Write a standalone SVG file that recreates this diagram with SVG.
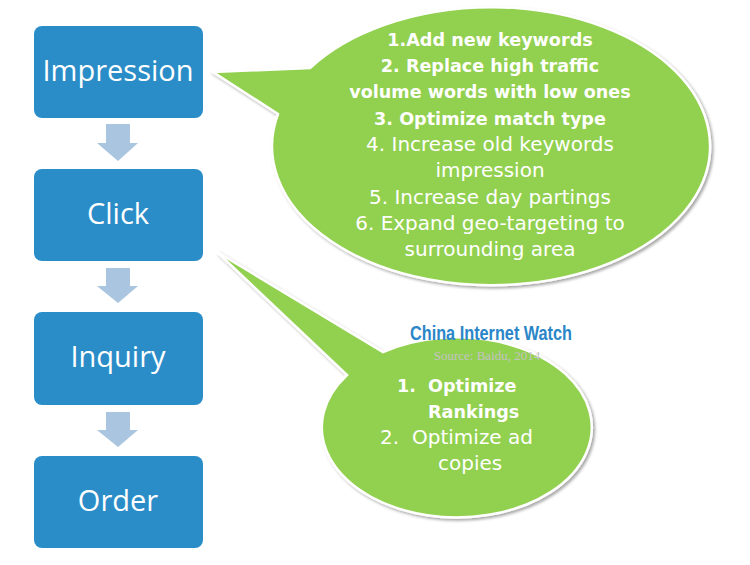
<svg xmlns="http://www.w3.org/2000/svg" width="750" height="565" viewBox="0 0 750 565">
<defs>
<filter id="sh" x="-10%" y="-10%" width="125%" height="125%">
<feDropShadow dx="2" dy="2" stdDeviation="1.5" flood-color="#000" flood-opacity="0.35"/>
</filter>
</defs>
<style>
.box{fill:#2A8DC8;}
.bt{fill:#fff;font-family:"Open Sans","Liberation Sans",sans-serif;font-size:29px;text-anchor:middle;}
.arr{fill:#A9C5DF;}
.call{fill:#92D050;stroke:#fff;stroke-width:2.5;filter:url(#sh);}
.ct{fill:#fff;font-family:"DejaVu Sans",sans-serif;font-size:20px;}
.m{text-anchor:middle;}
.b{font-weight:bold;font-size:17.6px;}
</style>
<rect width="750" height="565" fill="#fff"/>
<g id="connectors">
<path class="arr" d="M106,124 H130 V143 H138 L118,161 L97,143 H106 Z"/>
<path class="arr" d="M106,268 H130 V286 H138 L118,303 L97,286 H106 Z"/>
<path class="arr" d="M106,412 H130 V430 H138 L118,447 L97,430 H106 Z"/>
</g>
<g id="impression"><rect class="box" x="34" y="26" width="169" height="92" rx="8"/><text class="bt" x="118" y="81">Impression</text></g>
<g id="click"><rect class="box" x="34" y="169" width="169" height="92" rx="8"/><text class="bt" x="118" y="224">Click</text></g>
<g id="inquiry"><rect class="box" x="34" y="312" width="169" height="93" rx="8"/><text class="bt" x="118" y="367">Inquiry</text></g>
<g id="order"><rect class="box" x="34" y="456" width="169" height="92" rx="8"/><text class="bt" x="118" y="511">Order</text></g>
<g id="callout1">
<path class="call" d="M310,68 A219,139 0 1 1 278,114 L213,72 Z"/>
<text class="ct b m" x="490" y="46">1.Add new keywords</text>
<text class="ct b m" x="490" y="72">2. Replace high traffic</text>
<text class="ct b m" x="490" y="98">volume words with low ones</text>
<text class="ct b m" x="490" y="125">3. Optimize match type</text>
<text class="ct m" x="490" y="151">4. Increase old keywords</text>
<text class="ct m" x="490" y="177">impression</text>
<text class="ct m" x="490" y="204">5. Increase day partings</text>
<text class="ct m" x="490" y="230">6. Expand geo-targeting to</text>
<text class="ct m" x="490" y="256">surrounding area</text>
</g>
<g id="callout2">
<path class="call" d="M383,352 A135,90 0 1 1 347,375 L217,252 Z"/>
<text x="491" y="340" font-family="Liberation Sans Narrow,Liberation Sans,sans-serif" font-weight="bold" font-size="20" fill="#2A86C8" text-anchor="middle" textLength="162" lengthAdjust="spacingAndGlyphs">China Internet Watch</text>
<text x="487" y="360" font-family="Liberation Serif,serif" font-size="13" fill="#C4C4C4" text-anchor="middle">Source: Baidu, 2014</text>
<text class="ct b" x="397" y="392">1.</text>
<text class="ct b" x="428" y="392">Optimize</text>
<text class="ct b" x="428" y="418">Rankings</text>
<text class="ct" x="380" y="444">2.</text>
<text class="ct" x="412" y="444">Optimize ad</text>
<text class="ct" x="438" y="470">copies</text>
</g>
</svg>
